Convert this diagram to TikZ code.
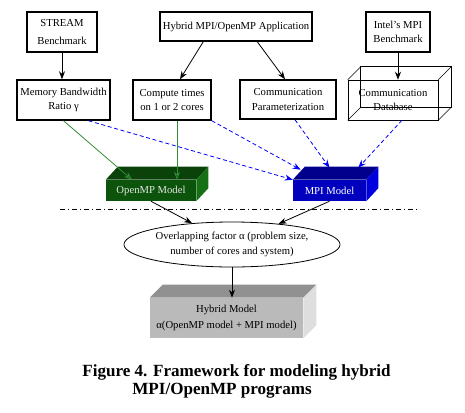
\documentclass[tikz,border=0pt]{standalone}
\usepackage{fontspec}
\setmainfont{Liberation Serif}
\usepackage{tikz}
\usetikzlibrary{arrows.meta,shapes.geometric,calc}

\definecolor{ompfront}{RGB}{12,84,12}
\definecolor{omptop}{RGB}{10,66,10}
\definecolor{ompside}{RGB}{22,112,22}
\definecolor{mpifront}{RGB}{0,0,190}
\definecolor{mpitop}{RGB}{0,0,140}
\definecolor{mpiside}{RGB}{0,0,222}
\definecolor{hybfront}{RGB}{186,186,186}
\definecolor{hybtop}{RGB}{145,145,145}
\definecolor{hybside}{RGB}{222,222,222}
\definecolor{flowgreen}{RGB}{50,140,50}

\begin{document}
\begin{tikzpicture}[x=0.75pt,y=0.75pt,yscale=-1,xscale=1,
    inbox/.style={draw,line width=1.1pt,align=center,inner sep=0pt,font=\fontsize{8}{11}\selectfont},
    slab/.style={align=center,inner sep=0pt,font=\fontsize{8}{12}\selectfont},
    tip/.style={-{Stealth[length=6pt,width=4.5pt]},line width=0.6pt},
    greenflow/.style={tip,draw=flowgreen,-{Stealth[length=6pt,width=4.5pt,fill=ompfront]}},
    blueflow/.style={tip,draw=blue,dash pattern=on 3pt off 2pt}]
    \useasboundingbox (0,0) rectangle (465,412);

    % top row
    \node[inbox,minimum width=52.5pt,minimum height=30pt] (stream) at (62,32) {STREAM\\[2pt]Benchmark};
    \node[inbox,minimum width=114pt,minimum height=21.75pt] (hyb) at (236,26.5) {Hybrid MPI/OpenMP Application};
    \node[inbox,minimum width=48pt,minimum height=30pt] (intel) at (398,32) {Intel's MPI\\Benchmark};

    % second row
    \node[inbox,minimum width=69.75pt,minimum height=30pt] (mem) at (63.5,100) {Memory Bandwidth\\Ratio γ};
    \node[inbox,minimum width=58.5pt,minimum height=30pt] (comp) at (172,100) {Compute times\\on 1 or 2 cores};
    \node[inbox,minimum width=72pt,minimum height=29.25pt] (cpar) at (288,99.5) {Communication\\Parameterization};
    \node[draw,line width=0.4pt,align=center,inner sep=0pt,minimum width=67.5pt,minimum height=30pt,
          font=\fontsize{8}{11}\selectfont] (db) at (393,100) {Communication\\Database};
    \draw[line width=0.4pt] ($(db.north west)+(13,-13)$) rectangle ($(db.south east)+(13,-13)$);
    \foreach \c in {north west,north east,south west,south east}
        \draw[line width=0.4pt] (db.\c) -- ++(13,-13);

    % model slabs
    \node[slab,fill=ompfront,text=white!90!black,minimum width=67.5pt,minimum height=15.75pt] (omp) at (151,190.5) {OpenMP Model};
    \fill[omptop] (omp.north west) -- ++(12,-13) -- ($(omp.north east)+(12,-13)$) -- (omp.north east) -- cycle;
    \fill[ompside] (omp.north east) -- ++(12,-13) -- ($(omp.south east)+(12,-13)$) -- (omp.south east) -- cycle;

    \node[slab,fill=mpifront,text=white,minimum width=54.75pt,minimum height=15.75pt] (mpi) at (329.5,190.5) {MPI Model};
    \fill[mpitop] (mpi.north west) -- ++(12,-13) -- ($(mpi.north east)+(12,-13)$) -- (mpi.north east) -- cycle;
    \fill[mpiside] (mpi.north east) -- ++(12,-13) -- ($(mpi.south east)+(12,-13)$) -- (mpi.south east) -- cycle;

    \draw[line width=0.4pt,dash pattern=on 4pt off 2pt on 1pt off 2pt] (60,209) -- (420,209);

    \node[draw,ellipse,line width=0.6pt,align=center,inner sep=0pt,minimum width=135pt,minimum height=33.75pt,
          font=\fontsize{8}{11}\selectfont] (ell) at (232,244.5) {Overlapping factor α (problem size,\\number of cores and system)};

    \node[slab,fill=hybfront,minimum width=114.75pt,minimum height=30pt] (hybm) at (226.5,318) {Hybrid Model\\α(OpenMP model + MPI model)};
    \fill[hybtop] (hybm.north west) -- ++(13,-13) -- ($(hybm.north east)+(13,-13)$) -- (hybm.north east) -- cycle;
    \fill[hybside] (hybm.north east) -- ++(13,-13) -- ($(hybm.south east)+(13,-13)$) -- (hybm.south east) -- cycle;

    % connectors
    \coordinate (hybl) at ($(hyb.south west)+(44,0)$);
    \coordinate (hybr) at ($(hyb.south west)+(98,0)$);
    \coordinate (compg) at ($(comp.south)+(5,0)$);
    \draw[tip] (stream.south) -- (stream.south |- mem.north);
    \draw[tip] (hybl) -- ($(comp.north)+(8,0)$);
    \draw[tip] (hybr) -- ($(cpar.north)+(-3,0)$);
    \draw[tip] (intel.south) -- (intel.south |- db.north);

    \draw[greenflow] (mem.south) -- ($(omp.north)+(-19,0)$);
    \draw[greenflow] (compg) -- (compg |- omp.north);

    \draw[blueflow] ($(mem.south)+(25,0)$) -- (mpi.north west);
    \draw[blueflow] (comp.south east) -- ($(mpi.north west)+(8,-10)$);
    \draw[blueflow] ($(cpar.south)+(7,0)$) -- ($(mpi.north)+(0,-12)$);
    \draw[blueflow] ($(db.south)+(9,0)$) -- ($(mpi.north east)+(-8,-12)$);

    \draw[tip] (omp.south) -- (ell);
    \draw[tip] (mpi.south) -- (ell);
    \draw[tip] (ell.south) -- (ell.south |- hybm.north);

    % caption
    \node[font=\fontsize{12.8}{15}\selectfont\bfseries] (cap1) at (236.5,372) {Figure 4. Framework for modeling hybrid};
    \node[font=\fontsize{12.8}{15}\selectfont\bfseries] (cap2) at (222,391) {MPI/OpenMP programs};
\end{tikzpicture}
\end{document}
